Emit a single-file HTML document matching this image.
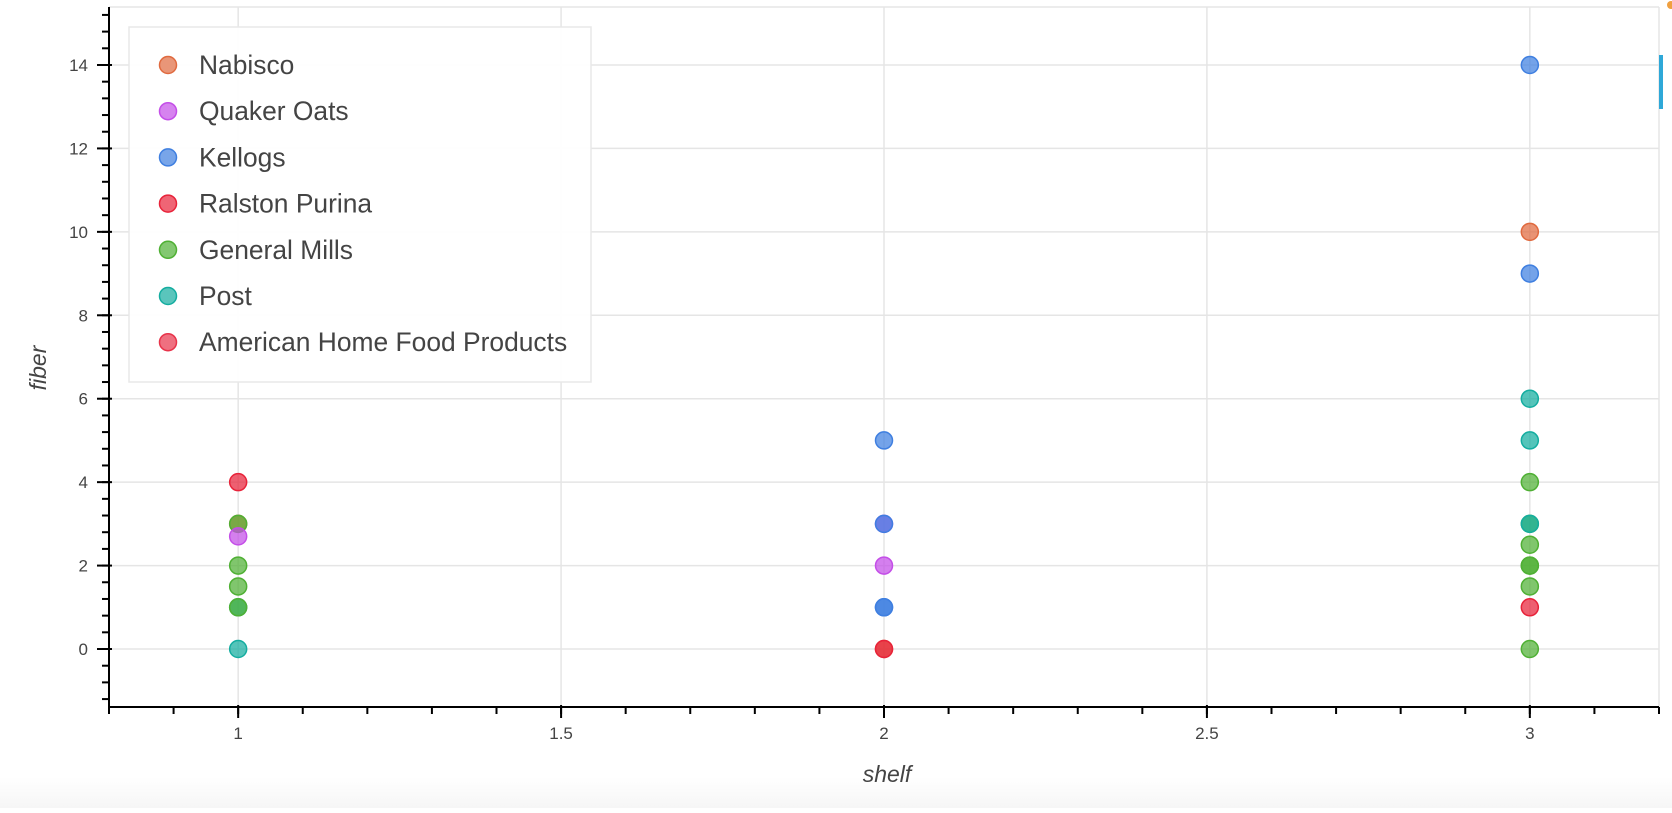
<!DOCTYPE html>
<html><head><meta charset="utf-8"><style>
html,body{margin:0;padding:0;background:#fff;}
body{width:1672px;height:808px;overflow:hidden;font-family:"Liberation Sans",Helvetica,sans-serif;}
</style></head><body>
<svg id="chart" width="1672" height="808" xmlns="http://www.w3.org/2000/svg">
<defs><linearGradient id="bg" x1="0" y1="0" x2="0" y2="1"><stop offset="0" stop-color="#fff"/><stop offset="1" stop-color="#f6f6f6"/></linearGradient></defs>
<rect x="0" y="777" width="1672" height="31" fill="url(#bg)"/>
<g id="grid"></g>
<g id="points"></g>
<g id="axes"></g>
<g id="legend"></g>
<rect x="1659" y="55" width="4" height="54" fill="#2ea8d8"/>
<circle cx="1671" cy="5" r="4" fill="#f0a040"/>
<text x="46" y="368" font-size="23" font-style="italic" fill="#444" text-anchor="middle" transform="rotate(-90 46 368)">fiber</text>
<text x="887" y="782" font-size="23" font-style="italic" fill="#444" text-anchor="middle">shelf</text>
</svg>
<script>
const brands = ["Nabisco","Quaker Oats","Kellogs","Ralston Purina","General Mills","Post","American Home Food Products"];
const colors = ["#e06a3f","#c44ee8","#3f7fe0","#e8233a","#4fb034","#14ada0","#e8334a"];
const shelfVals = [1,1,1,1,1,1,1,1,1, 2,2,2,2,2,2,2,2, 3,3,3,3,3,3,3,3,3,3,3,3,3,3];
const fiberVals = [4,3,3,2.7,2,1.5,1,0,1, 5,3,3,2,1,1,0,0, 14,10,9,6,4,3,2.5,2,2,1.5,1,0,3,5];
const brandIdx  = [3,0,4,1,4,4,5,5,4, 2,1,2,1,2,2,0,3, 2,0,2,5,4,4,4,4,4,4,3,4,5,5];
const xTicks = [1,1.5,2,2.5,3];
const xTickLabels = ["1","1.5","2","2.5","3"];
const yTicks = [0,2,4,6,8,10,12,14];
const yTickLabels = ["0","2","4","6","8","10","12","14"];
const L=109,R=1659,T=7,B=707;
const xmin=0.8,xmax=3.2,ymin=-1.39,ymax=15.39;
const sx=v=>L+(v-xmin)/(xmax-xmin)*(R-L);
const sy=v=>B-(v-ymin)/(ymax-ymin)*(B-T);
const NS="http://www.w3.org/2000/svg";
function mk(tag,attrs,parent){const e=document.createElementNS(NS,tag);for(const k in attrs)e.setAttribute(k,attrs[k]);parent.appendChild(e);return e;}
const grid=document.getElementById('grid'),axes=document.getElementById('axes'),pts=document.getElementById('points'),leg=document.getElementById('legend');
mk('line',{x1:L,y1:T,x2:R,y2:T,stroke:'#e5e5e5','stroke-width':1.5},grid);
mk('line',{x1:R,y1:T,x2:R,y2:B,stroke:'#e5e5e5','stroke-width':1.5},grid);
xTicks.forEach((t,i)=>{
  const g=mk('line',{x1:sx(t),y1:T,x2:sx(t),y2:B,stroke:'#e5e5e5','stroke-width':1.5},grid);
  
  
  const tl=mk('text',{x:sx(t),y:B+32,'font-size':17,fill:'#444','text-anchor':'middle'},axes);
  tl.textContent=xTickLabels[i];
  
  
  mk('line',{x1:sx(t),y1:B-2,x2:sx(t),y2:B+11,stroke:'#000','stroke-width':2},axes);
});
for(let v=0.8;v<=3.2001;v+=0.1){mk('line',{x1:sx(v),y1:B,x2:sx(v),y2:B+7,stroke:'#000','stroke-width':2},axes);}
yTicks.forEach((t,i)=>{
  const g=mk('line',{x1:L,y1:sy(t),x2:R,y2:sy(t),stroke:'#e5e5e5','stroke-width':1.5},grid);
  
  
  const tl=mk('text',{x:L-21,y:sy(t)+6,'font-size':17,fill:'#444','text-anchor':'end'},axes);
  tl.textContent=yTickLabels[i];
  
  
  mk('line',{x1:L-12,y1:sy(t),x2:L+3,y2:sy(t),stroke:'#000','stroke-width':2},axes);
});
for(let v=-1.2;v<=15.3;v+=0.4){mk('line',{x1:L-7,y1:sy(v),x2:L,y2:sy(v),stroke:'#000','stroke-width':2},axes);}
mk('line',{x1:L,y1:T,x2:L,y2:B+1,stroke:'#000','stroke-width':2},axes);
mk('line',{x1:L-1,y1:B,x2:R,y2:B,stroke:'#000','stroke-width':2},axes);
shelfVals.forEach((s,i)=>{
  const c=colors[brandIdx[i]];
  const p=mk('circle',{cx:sx(s),cy:sy(fiberVals[i]),r:8.5,fill:c,'fill-opacity':0.72,stroke:c,'stroke-width':1.5},pts);
  
  
});
mk('rect',{x:129,y:27,width:462,height:355,fill:'#fff','fill-opacity':0.95,stroke:'#e8e8e8','stroke-width':1.5},leg);
brands.forEach((b,i)=>{
  const y=65+i*46.2;
  const c=colors[i];
  const m=mk('circle',{cx:168,cy:y,r:8.5,fill:c,'fill-opacity':0.7,stroke:c,'stroke-width':1.5},leg);
  
  
  const t=mk('text',{x:199,y:y+9,'font-size':26.4,fill:'#444'},leg);
  t.textContent=b;
  
  
});
</script>
</body></html>
